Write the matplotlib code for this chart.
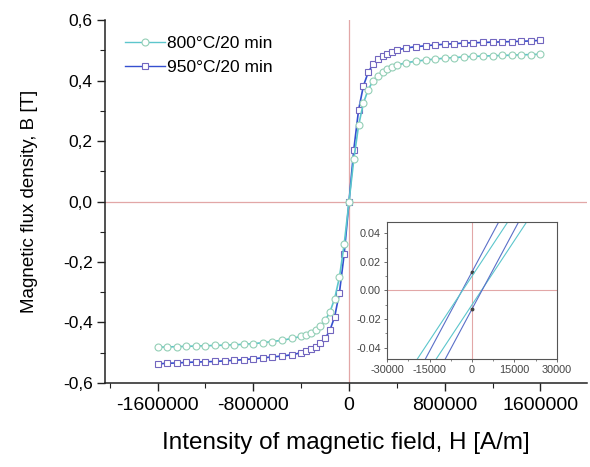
import matplotlib
matplotlib.use("Agg")
import matplotlib.pyplot as plt
import matplotlib.ticker as mticker

plt.rcParams.update({
    "font.family": ["Liberation Sans", "DejaVu Sans"],
    "axes.spines.top": False,
    "axes.spines.right": False,
})

TEAL_LINE = "#5cc6cc"
TEAL_MARK = "#93cfb6"
BLUE_LINE = "#3550d0"
BLUE_MARK = "#7266bf"
REF = "#e2a7a7"

# ── DATA ──────────────────────────────────────────────────────────────────────
H = [-1600000, -1520000, -1440000, -1360000, -1280000, -1200000, -1120000,
     -1040000, -960000, -880000, -800000, -720000, -640000, -560000, -480000,
     -400000, -360000, -320000, -280000, -240000, -200000, -160000, -120000,
     -80000, -40000, 0,
     40000, 80000, 120000, 160000, 200000, 240000, 280000, 320000, 360000,
     400000, 480000, 560000, 640000, 720000, 800000, 880000, 960000, 1040000,
     1120000, 1200000, 1280000, 1360000, 1440000, 1520000, 1600000]

B_800 = [-0.482, -0.481, -0.480, -0.479, -0.478, -0.477, -0.476, -0.475,
         -0.474, -0.472, -0.470, -0.467, -0.463, -0.459, -0.453, -0.446,
         -0.441, -0.434, -0.425, -0.412, -0.393, -0.366, -0.321, -0.250,
         -0.140, 0.000,
         0.140, 0.252, 0.325, 0.370, 0.398, 0.416, 0.428, 0.437, 0.445,
         0.451, 0.459, 0.464, 0.468, 0.471, 0.474, 0.476, 0.478, 0.480,
         0.481, 0.482, 0.483, 0.484, 0.485, 0.486, 0.487]

B_950 = [-0.537, -0.535, -0.534, -0.532, -0.531, -0.530, -0.529, -0.527,
         -0.525, -0.523, -0.520, -0.517, -0.514, -0.511, -0.507, -0.500,
         -0.495, -0.488, -0.480, -0.469, -0.453, -0.426, -0.381, -0.301,
         -0.172, 0.000,
         0.172, 0.303, 0.382, 0.427, 0.454, 0.470, 0.481, 0.489, 0.496,
         0.501, 0.508, 0.512, 0.515, 0.518, 0.520, 0.522, 0.524, 0.525,
         0.526, 0.527, 0.528, 0.529, 0.530, 0.531, 0.533]

# inset: branches of the loops near the origin
H_in = [-40000, 0, 40000]
B_800_desc = [-0.110, 0.010, 0.130]
B_800_asc = [-0.130, -0.010, 0.110]
B_950_desc = [-0.135, 0.013, 0.161]
B_950_asc = [-0.161, -0.013, 0.135]

x_ticks = [-1600000, -800000, 0, 800000, 1600000]
y_ticks = [-0.6, -0.4, -0.2, 0.0, 0.2, 0.4, 0.6]
y_labels = ["-0,6", "-0,4", "-0,2", "0,0", "0,2", "0,4", "0,6"]
in_x_ticks = [-30000, -15000, 0, 15000, 30000]
in_y_ticks = [-0.04, -0.02, 0.0, 0.02, 0.04]
in_y_labels = ["-0.04", "-0.02", "0.00", "0.02", "0.04"]

# ── FIGURE ────────────────────────────────────────────────────────────────────
fig = plt.figure(figsize=(5.9, 4.67), dpi=100)
ax = fig.add_axes([0.178, 0.18, 0.817, 0.777])

ax.axhline(0, color=REF, lw=0.9, zorder=1)
ax.axvline(0, color=REF, lw=0.9, zorder=1)

ax.plot(H, B_800, color=TEAL_LINE, lw=1.2, marker="o", ms=5,
        mfc="white", mec=TEAL_MARK, mew=0.8, label="800°C/20 min", zorder=3)
ax.plot(H, B_950, color=BLUE_LINE, lw=1.2, marker="s", ms=5,
        mfc="white", mec=BLUE_MARK, mew=0.8, label="950°C/20 min", zorder=2)

ax.set_xlim(-2040000, 1990000)
ax.set_ylim(-0.6, 0.6)
ax.set_xticks(x_ticks)
ax.set_xticklabels([str(v) for v in x_ticks])
ax.xaxis.set_minor_locator(mticker.MultipleLocator(400000))
ax.set_yticks(y_ticks)
ax.set_yticklabels(y_labels)
ax.yaxis.set_minor_locator(mticker.MultipleLocator(0.1))
ax.tick_params(which="major", length=6, width=1, color="#222222", pad=3)
ax.tick_params(axis="x", which="major", labelsize=14, pad=4)
ax.tick_params(axis="y", which="major", labelsize=12.5)
ax.tick_params(which="minor", length=3.5, width=0.8, color="#222222")
for s in ("left", "bottom"):
    ax.spines[s].set_linewidth(1.1)
    ax.spines[s].set_color("#222222")

ax.set_ylabel("Magnetic flux density, B [T]", fontsize=13.5, labelpad=18)
ax.set_xlabel("Intensity of magnetic field, H [A/m]", fontsize=17.5,
              labelpad=13)

leg = ax.legend(loc="upper left", bbox_to_anchor=(0.02, 0.985), frameon=False,
                fontsize=12.5, handlelength=2.3, handletextpad=0.1,
                labelspacing=0.5, borderaxespad=0.2)
for h in leg.get_lines():
    h.set_linewidth(1.0)

# ── INSET ─────────────────────────────────────────────────────────────────────
axi = fig.add_axes([0.656, 0.231, 0.288, 0.294])
for s in axi.spines.values():
    s.set_visible(True)
    s.set_linewidth(0.8)
    s.set_color("#555555")
axi.axhline(0, color=REF, lw=0.8, zorder=1)
axi.axvline(0, color=REF, lw=0.8, zorder=1)
axi.plot(H_in, B_950_desc, color="#5a6fc8", lw=0.8, marker="o", ms=1.8,
         mfc="#444444", mec="#444444")
axi.plot(H_in, B_800_desc, color=TEAL_LINE, lw=0.8)
axi.plot(H_in, B_800_asc, color=TEAL_LINE, lw=0.8)
axi.plot(H_in, B_950_asc, color="#5a6fc8", lw=0.8, marker="o", ms=1.8,
         mfc="#444444", mec="#444444")
axi.set_xlim(-30000, 30000)
axi.set_ylim(-0.048, 0.048)
axi.set_xticks(in_x_ticks)
axi.set_xticklabels([str(v) for v in in_x_ticks])
axi.set_yticks(in_y_ticks)
axi.set_yticklabels(in_y_labels)
axi.xaxis.set_minor_locator(mticker.MultipleLocator(7500))
axi.yaxis.set_minor_locator(mticker.MultipleLocator(0.01))
axi.tick_params(which="major", length=2.5, width=0.6, labelsize=7.8,
                color="#555555", labelcolor="#444444", pad=2)
axi.tick_params(which="minor", length=1.5, width=0.5, color="#555555")

fig.savefig("out.png", dpi=100)
